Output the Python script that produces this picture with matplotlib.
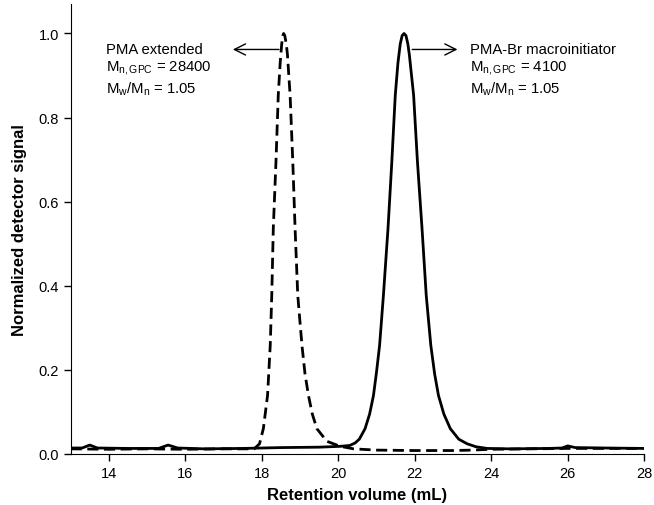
import numpy as np
import matplotlib
matplotlib.use("Agg")
import matplotlib.pyplot as plt

plt.rcParams['font.family'] = ['Liberation Sans', 'DejaVu Sans']
plt.rcParams['mathtext.fontset'] = 'custom'
plt.rcParams['mathtext.rm'] = 'Liberation Sans'
plt.rcParams['mathtext.it'] = 'Liberation Sans'

# PMA-Br macroinitiator (solid trace)
macro_x = [13.0, 13.3, 13.5, 13.7, 14.5, 15.3, 15.55, 15.8, 16.5, 17.5, 18.5, 19.5,
           20.05, 20.3, 20.44, 20.55, 20.70, 20.82, 20.92, 21.00, 21.08, 21.18, 21.30,
           21.40, 21.49, 21.56, 21.62, 21.67, 21.72, 21.77, 21.82, 21.86, 21.97, 22.07,
           22.19, 22.30, 22.42, 22.52, 22.62, 22.76, 22.93, 23.15, 23.37, 23.6, 23.89,
           24.5, 25.5, 25.85, 26.0, 26.2, 27.0, 28.0]
macro_y = [0.014, 0.014, 0.021, 0.014, 0.013, 0.013, 0.021, 0.014, 0.012, 0.013, 0.015, 0.016,
           0.018, 0.020, 0.026, 0.035, 0.060, 0.095, 0.139, 0.195, 0.258, 0.377, 0.536,
           0.695, 0.853, 0.930, 0.975, 0.995, 1.000, 0.995, 0.975, 0.948, 0.853, 0.695,
           0.536, 0.377, 0.258, 0.190, 0.139, 0.095, 0.060, 0.035, 0.024, 0.017, 0.013,
           0.012, 0.013, 0.014, 0.019, 0.015, 0.014, 0.013]

# PMA extended (dashed trace)
ext_x = [13.0, 14.0, 15.0, 16.0, 17.0, 17.8, 17.94, 18.04, 18.15, 18.22, 18.26, 18.30,
         18.37, 18.43, 18.48, 18.52, 18.55, 18.57, 18.60, 18.64, 18.67, 18.74, 18.81,
         18.87, 18.94, 19.05, 19.13, 19.22, 19.32, 19.44, 19.70, 20.05, 20.4, 21.0,
         22.0, 23.0, 23.5, 24.0, 25.0, 26.0, 27.0, 28.0]
ext_y = [0.012, 0.011, 0.012, 0.011, 0.012, 0.012, 0.024, 0.060, 0.139, 0.258, 0.377, 0.536,
         0.695, 0.853, 0.930, 0.975, 0.995, 1.000, 0.995, 0.975, 0.950, 0.853, 0.695,
         0.536, 0.377, 0.258, 0.190, 0.139, 0.095, 0.060, 0.030, 0.018, 0.012, 0.009,
         0.008, 0.008, 0.009, 0.011, 0.012, 0.013, 0.013, 0.013]

x_ticks = [14, 16, 18, 20, 22, 24, 26, 28]
y_ticks = [0.0, 0.2, 0.4, 0.6, 0.8, 1.0]

fig = plt.figure(figsize=(6.54, 5.06), dpi=100)
ax = fig.add_axes([0.108, 0.101, 0.877, 0.889])

ax.plot(ext_x, ext_y, color='black', lw=2.0, linestyle=(0, (4, 2)))
ax.plot(macro_x, macro_y, color='black', lw=2.0)

ax.set_xlim(13, 28)
ax.set_ylim(0, 1.07)
ax.set_xticks(x_ticks)
ax.set_yticks(y_ticks)
ax.set_yticklabels([f"{v:.1f}" for v in y_ticks])
ax.tick_params(direction='out', length=5, width=1, labelsize=10.5)
ax.spines['top'].set_visible(False)
ax.spines['right'].set_visible(False)

ax.set_xlabel('Retention volume (mL)', fontsize=12, fontweight='bold', labelpad=5)
ax.set_ylabel('Normalized detector signal', fontsize=12, fontweight='bold', labelpad=8)

# arrows from peak tops
ax.annotate('', xy=(17.17, 0.962), xytext=(18.52, 0.962),
            arrowprops=dict(arrowstyle='->', color='black', lw=1.0, mutation_scale=20))
ax.annotate('', xy=(23.19, 0.962), xytext=(21.86, 0.962),
            arrowprops=dict(arrowstyle='->', color='black', lw=1.0, mutation_scale=20))

fs = 10.7
ax.text(13.93, 0.962, 'PMA extended', fontsize=fs, va='center')
ax.text(13.93, 0.920, r'$\mathregular{M_{n,GPC}}$ = 28400', fontsize=fs, va='center')
ax.text(13.93, 0.870, r'$\mathregular{M_w/M_n}$ = 1.05', fontsize=fs, va='center')

ax.text(23.45, 0.962, 'PMA-Br macroinitiator', fontsize=fs, va='center')
ax.text(23.45, 0.920, r'$\mathregular{M_{n,GPC}}$ = 4100', fontsize=fs, va='center')
ax.text(23.45, 0.870, r'$\mathregular{M_w/M_n}$ = 1.05', fontsize=fs, va='center')

fig.savefig('out.png', dpi=100)
